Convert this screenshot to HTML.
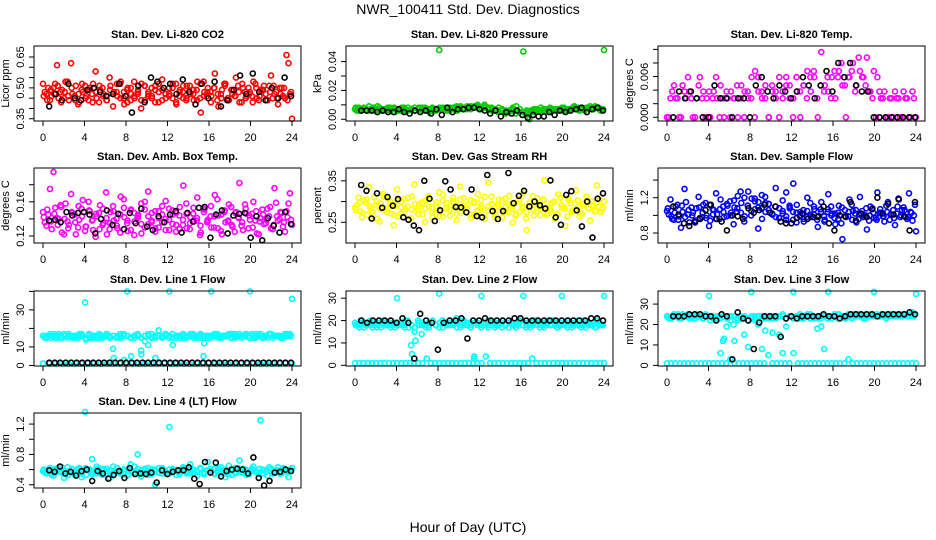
<!DOCTYPE html>
<html><head><meta charset="utf-8"><style>
html,body{margin:0;padding:0;background:#fff;}
svg{display:block;font-family:"Liberation Sans",Arial,sans-serif;}
</style></head><body>
<svg id="chart" width="936" height="540" viewBox="0 0 936 540" xmlns="http://www.w3.org/2000/svg">
<rect width="936" height="540" fill="#fff"/>
<text x="468" y="14" text-anchor="middle" font-size="14">NWR_100411  Std. Dev. Diagnostics</text>
<text x="468" y="532" text-anchor="middle" font-size="14">Hour of Day (UTC)</text>
</svg>
<script>
// ---- data (hours axis 0..24) ----
const hourTicks = [0,4,8,12,16,20,24];
// Panel 1: CO2 (x0.01 ppm)
const co2Red1 = [52,47,44,50,61,48,45,53,62,46,42,49,51,44,47,58,43,50,46,55,41,48,52,45,49,44,53,47,40,51,46,50,43,48,54,45,47,52,42,49,45,51,47,44,53,38,48,50,46,57,41,49,52,44,47,55,43,50,46,48,53,45,49,51,44,56,47,42,50,45,62,35];
const co2Red2 = [48,50,46,52,45,49,53,44,47,51,43,48,46,50,52,45,49,47,44,51,48,46,53,42,50,47,45,49,52,44,48,46,51,43,49,47,50,45,52,46,48,44,51,47,49,45,53,46,48,50,44,47,52,45,49,46,51,43,48,50,46,52,44,49,47,51,45,48,50,46,66,47];
const co2Red3 = [46,44,49,47,51,43,48,46,50,44,47,52,45,49,43,48,51,46,44,49,47,52,45,48,43,50,46,48,44,51,47,45,49,52,44,47,46,50,43,48,51,45,47,49,44,52,46,48,43,50,47,45,51,44,49,46,48,52,45,47,43,50,46,49,44,48,51,45,47,50,44,48];
const co2Black = [41,47,44,52,45,44,49,50,48,46,47,52,46,38,51,43,55,53,50,52,47,54,48,42,52,45,53,41,44,49,56,47,57,48,44,50,45,55,46];
// Panel 2: pressure (x0.001 kPa)
const presGreen1 = [7,8,6,7,9,7,6,8,7,6,8,7,6,7,8,6,7,8,7,6,8,7,6,7,48,7,8,6,8,9,7,8,7,9,8,10,7,9,8,7,6,8,7,5,6,8,9,7,47,5,6,7,6,8,7,6,5,7,6,8,7,6,8,7,6,7,8,9,7,8,6,48];
const presGreen2 = [6,7,8,6,7,8,9,6,7,8,7,5,6,8,7,6,7,6,8,7,6,5,7,6,8,7,6,7,8,6,9,7,8,7,9,8,7,10,8,6,7,5,6,4,5,7,4,5,3,4,0,5,6,5,7,6,8,7,6,7,8,6,7,9,8,7,6,8,7,9,8,7];
const presGreen3 = [8,6,7,7,6,8,7,7,6,7,6,8,7,6,6,8,7,6,7,8,7,6,8,7,7,8,7,8,7,8,8,7,9,8,8,9,8,8,7,8,7,6,6,6,5,6,6,5,5,6,5,6,7,6,6,7,7,6,7,7,6,7,7,8,7,8,7,7,8,8,7,7];
const presBlack = [6,6,6,5,6,5,5,7,5,4,6,5,6,4,7,3,8,5,7,7,8,8,7,6,4,6,2,5,4,6,3,1,3,2,2,5,3,6,5,6,7,8,5,7,8,6];
// Panel 3: Li-820 temp (x0.0001 C)
const tempMag1 = [0,28,47,28,0,38,59,28,0,47,28,0,38,28,59,0,28,38,0,28,47,28,0,38,28,0,59,38,28,0,47,38,0,28,59,47,28,38,0,47,68,38,59,0,96,47,38,59,28,68,47,0,59,80,47,68,59,88,38,68,59,28,38,0,28,38,28,0,28,0,38,0];
const tempMag2 = [0,38,28,0,47,28,38,0,28,59,38,28,0,38,28,47,0,28,38,28,0,47,38,28,59,68,38,28,47,0,38,28,59,38,47,28,0,59,38,47,28,59,68,28,47,38,59,28,68,59,80,47,59,68,38,88,59,47,38,28,0,38,28,0,28,0,28,0,38,28,0,28];
const tempBlack = [0,38,28,38,28,0,0,47,28,28,0,28,28,0,47,59,38,28,47,38,28,38,59,47,28,47,68,38,80,59,80,47,38,38,0,0,0,0,0,0,0,0];
// Panel 4: amb box temp (x0.001 C)
const boxMag1 = [148,132,175,195,141,156,122,137,169,145,130,152,126,160,138,119,147,133,171,128,155,140,124,163,135,150,121,143,158,130,172,138,125,149,136,161,127,145,133,154,179,129,142,137,165,124,151,139,130,168,144,122,136,157,131,148,182,127,146,139,160,123,141,134,152,129,176,138,147,125,158,133];
const boxMag2 = [136,145,128,153,140,124,158,133,147,122,139,162,131,149,127,143,156,135,122,148,138,129,166,142,126,151,137,145,123,160,134,147,129,141,155,127,139,150,125,144,133,158,128,146,138,121,152,136,143,130,163,126,148,137,154,125,142,132,157,129,146,138,122,151,135,143,128,159,140,131,149,170];
const boxMag3 = [142,151,137,146,133,154,140,129,148,136,155,143,131,150,139,146,128,152,141,135,149,132,145,153,138,127,147,141,134,151,143,136,149,130,145,140,152,134,147,128,139,146,135,153,141,132,148,137,155,143,129,145,150,138,133,147,141,136,152,144,130,149,137,145,139,154,133,143,148,136,142,139];
const boxBlack = [138,139,136,148,144,147,148,145,123,140,150,133,146,128,147,135,152,131,127,143,136,145,149,124,147,137,153,154,118,145,150,123,144,146,147,118,143,115,141,132,124,148,134];
// Panel 5: gas stream RH (x0.001 percent)
const rhYel1 = [285,310,262,298,335,276,291,252,318,284,300,243,329,270,306,288,260,341,279,295,251,313,286,272,322,264,297,281,309,255,336,290,275,303,268,318,284,258,346,293,277,305,262,288,314,249,299,276,320,231,290,267,308,283,351,272,296,259,317,285,241,302,278,327,265,294,312,254,289,339,275,300];
const rhYel2 = [291,276,303,268,283,310,258,295,279,306,271,289,264,300,283,257,312,277,294,269,303,287,261,298,275,316,282,266,301,290,273,308,285,261,296,279,304,270,288,312,262,293,281,307,274,290,266,301,284,259,297,313,276,289,305,268,282,298,271,309,287,264,295,279,303,270,291,284,300,276,288,281];
const rhYel3 = [280,297,272,305,289,266,299,283,312,274,291,268,302,286,277,309,281,294,270,298,284,307,273,290,265,301,287,279,296,271,305,283,292,268,300,276,289,311,279,295,270,287,302,276,293,283,269,306,288,274,298,281,294,267,303,285,277,300,269,291,282,308,275,296,286,271,299,283,292,277,304,286];
const rhBlack = [340,326,259,320,285,311,290,306,262,256,242,231,350,307,253,279,349,329,287,286,274,329,265,262,364,277,258,277,369,296,314,326,288,300,291,283,351,262,244,316,325,279,240,300,213,307,320];
// Panel 6: sample flow (x0.01 ml/min)
const sfBlue1 = [105,118,95,112,86,130,101,109,92,121,98,114,88,107,125,96,110,99,116,90,104,127,93,111,100,119,85,108,121,113,102,131,97,117,126,109,136,112,104,93,120,99,107,87,115,95,124,102,90,111,73,98,118,105,92,121,100,84,110,97,126,103,93,115,101,89,119,106,98,125,94,82];
const sfBlue2 = [101,96,110,99,104,115,92,103,108,97,112,100,94,106,101,118,98,111,103,109,122,114,99,127,119,107,115,96,104,113,101,98,108,102,95,111,104,92,99,106,98,114,101,95,107,99,104,110,97,103,91,106,99,112,102,96,105,100,94,108,97,103,99,111,95,106,102,98,109,96,104,100];
const sfBlue3 = [108,99,103,95,111,98,106,100,94,109,103,97,112,101,96,107,104,113,100,117,108,103,120,111,105,116,109,123,114,106,101,110,97,105,99,108,95,103,100,96,105,101,110,98,104,93,107,100,102,96,109,99,104,95,106,101,98,108,100,103,95,107,99,104,101,97,110,100,106,98,103,112];
const sfBlack = [110,101,91,88,93,96,106,112,96,93,83,100,99,96,108,103,106,112,103,110,93,91,91,97,102,96,98,99,110,91,83,100,99,115,94,102,98,107,120,102,113,101,118,99,83,115];
// Panel 7: line 1 flow (ml/min)
const l1Cyan1 = [16,15,17,16,15,16,17,15,16,16,15,17,34,16,15,16,17,15,16,16,9,15,17,16,40,15,16,17,8,16,11,17,15,19,16,17,40,11,16,15,15,16,17,15,16,15,12,16,40,17,15,16,16,17,15,16,17,16,17,40,15,16,17,16,15,17,16,16,15,17,16,36];
const l1Cyan2 = [15,16,16,15,17,15,16,16,15,16,17,16,14,15,16,16,15,16,17,15,4,16,15,3,16,5,15,16,6,13,16,15,4,16,15,16,15,17,15,16,16,15,16,17,15,16,5,16,15,16,17,15,16,16,15,17,16,15,16,16,17,15,16,15,16,17,15,16,16,15,16,17];
const l1Cyan3 = [16,16,15,17,16,15,16,17,16,15,16,16,15,17,16,15,16,16,17,15,16,15,16,17,16,15,16,16,15,16,17,15,16,16,15,17,16,15,16,16,17,15,16,16,15,17,16,15,16,17,16,15,16,16,17,15,16,16,17,15,16,17,16,15,16,17,16,16,15,16,17,16];
const l1Low = [1,1,1,1,1,1,1,1,1,1,1,1,1,1,1,1,1,1,1,1,1,1,1,1,1,1,1,1,1,1,1,1,1,1,1,1,1,1,1,1];
const l1Black = [1.5,1.5,1.5,1.5,1.5,1.5,1.5,1.5,1.5,1.5,1.5,1.5,1.5,1.5,1.5,1.5,1.5,1.5,1.5,1.5,1.5,1.5,1.5,1.5,1.5,1.5,1.5,1.5,1.5,1.5,1.5,1.5,1.5,1.5,1.5,1.5,1.5,1.5,1.5,1.5,1.5,1.5,1.5,1.5,1.5];
// Panel 8: line 2 flow
const l2Cyan1 = [19,18,20,18,19,17,18,19,20,18,19,18,30,19,18,20,9,15,20,14,18,19,19,18,32,20,19,18,19,21,20,18,19,18,4,19,31,18,20,19,18,19,20,18,19,18,19,20,31,19,18,20,19,18,19,20,18,19,18,31,19,20,18,19,18,20,19,18,19,20,18,31];
const l2Cyan2 = [18,19,17,18,20,18,19,17,18,19,18,17,19,18,20,17,5,11,18,19,17,18,20,18,19,17,18,19,18,19,17,20,18,19,3,18,17,19,18,20,17,18,19,18,17,19,18,20,18,17,19,18,20,17,18,19,18,20,17,19,18,17,19,18,20,17,18,19,18,17,19,18];
const l2Cyan3 = [18,17,19,18,18,19,17,18,19,18,17,19,18,18,17,19,18,17,19,18,18,17,19,18,17,19,18,18,19,17,18,19,18,17,19,18,18,19,17,18,19,18,17,18,19,18,17,19,18,18,17,19,18,19,17,18,18,19,17,18,19,18,17,19,18,18,17,19,18,17,19,18];
const l2Low = [1,1,1,1,1,1,1,1,1,1,1,1,1,1,1,1,1,3,1,1,1,1,1,1,1,1,1,1,1,1,1,4,1,1,1,1,1,1,1,1,1,1,3,1,1,1,1,1,1,1,1,1,1,1,1,1,1,1,1,1];
const l2Black = [20,19,20,20,20,20,19,21,19,3,23,20,19,7,19,20,20,21,12,20,20,21,20,20,20,20,21,21,20,20,20,20,20,20,20,20,20,20,20,21,21,20];
// Panel 9: line 3 flow
const l3Cyan1 = [24,23,25,24,23,24,25,24,23,24,24,25,34,24,23,24,12,19,24,20,23,24,15,22,36,24,20,24,17,24,23,24,15,25,19,24,36,24,23,24,25,24,23,24,19,24,36,23,24,25,24,23,24,25,24,24,23,24,25,36,24,25,24,24,25,24,25,24,25,24,26,35];
const l3Cyan2 = [23,24,24,23,25,24,23,24,24,25,23,24,22,23,24,6,13,23,24,12,22,23,24,9,23,22,24,8,23,24,16,23,24,6,23,24,23,24,25,23,24,23,24,18,23,8,23,24,25,23,24,24,25,23,24,25,24,23,24,25,24,24,25,23,24,25,25,24,25,24,25,24];
const l3Cyan3 = [24,23,24,25,23,24,24,23,25,24,23,24,24,23,22,23,24,23,22,24,23,24,23,22,24,23,24,23,24,23,24,23,24,24,23,24,23,24,24,23,24,25,24,23,24,24,23,24,24,25,24,23,24,24,25,24,24,25,24,24,25,24,24,25,24,25,24,25,25,24,25,25];
const l3Low = [1,1,1,1,1,1,1,1,1,1,1,1,1,1,1,3,1,1,1,1,1,1,1,1,5,1,1,1,1,1,6,1,1,1,1,1,1,1,1,1,1,1,1,3,1,1,1,1,1,1,1,1,1,1,1,1,1,1,1,1];
const l3Black = [24,24,24,25,25,25,24,24,22,25,24,3,26,23,22,8,21,24,24,24,14,23,24,23,24,24,24,24,25,24,24,23,24,25,25,25,25,25,24,25,25,25,25,25,26,25];
// Panel 10: line 4 (LT) flow (x0.01 ml/min)
const l4Cyan1 = [58,55,62,52,60,57,49,63,56,54,61,50,136,59,74,55,62,53,58,49,64,57,55,60,52,67,56,80,51,59,62,54,40,57,61,55,116,60,53,57,63,55,67,59,52,61,56,70,58,54,62,57,50,65,59,55,72,61,53,58,64,56,125,59,52,61,57,63,55,59,50,62];
const l4Cyan2 = [56,60,53,61,57,63,54,58,60,55,62,57,53,60,56,64,55,59,61,54,58,62,56,60,53,59,64,57,55,61,58,54,60,56,62,57,55,61,59,54,63,57,60,55,58,62,56,59,61,55,57,63,58,54,60,56,62,57,59,55,61,58,54,60,57,63,55,59,56,62,58,60];
const l4Cyan3 = [60,57,55,59,62,56,58,53,61,57,59,55,62,58,54,60,57,61,55,59,56,62,58,54,60,57,55,61,59,56,53,60,58,62,55,57,60,56,59,54,61,58,55,60,57,62,54,58,56,61,59,55,60,57,53,62,58,56,60,54,59,57,61,55,58,60,56,59,54,61,57,59];
const l4Black = [59,57,64,55,57,52,58,60,45,58,55,48,53,58,49,62,54,55,54,56,43,59,54,57,59,59,63,48,41,70,56,69,51,58,60,61,60,55,76,49,39,45,56,57,60,58];

const panels = [
 {name:'co2', title:'Stan. Dev. Li-820 CO2', ylab:'Licor ppm', col:0,row:0, ymin:0.339,ymax:0.7035, ticks:[0.35,0.40,0.45,0.50,0.55,0.60,0.65], labels:['0.35','','','0.50','','','0.65'],
  series:[{v:co2Red1,s:0.01,c:'#ff0000',t0:0,t1:24},{v:co2Red2,s:0.01,c:'#ff0000',t0:0.17,t1:23.8},{v:co2Red3,s:0.01,c:'#ff0000',t0:0.08,t1:23.9},{v:co2Black,s:0.01,c:'#000',t0:0.6,t1:23.9}]},
 {name:'pressure', title:'Stan. Dev. Li-820 Pressure', ylab:'kPa', col:1,row:0, ymin:-0.0012,ymax:0.0508, ticks:[0,0.01,0.02,0.03,0.04], labels:['0.00','','0.02','','0.04'],
  series:[{v:presGreen1,s:0.001,c:'#00cc00',t0:0,t1:24},{v:presGreen2,s:0.001,c:'#00cc00',t0:0.17,t1:23.8},{v:presGreen3,s:0.001,c:'#00cc00',t0:0.08,t1:23.9},{v:presBlack,s:0.001,c:'#000',t0:0.6,t1:23.9}]},
 {name:'li820-temp', title:'Stan. Dev. Li-820 Temp.', ylab:'degrees C', col:2,row:0, ymin:-0.00055,ymax:0.0105, ticks:[0,0.002,0.004,0.006,0.008,0.010], labels:['0.000','','','0.006','',''],
  series:[{v:tempMag1,s:0.0001,c:'#ff00ff',t0:0,t1:24},{v:tempMag2,s:0.0001,c:'#ff00ff',t0:0.17,t1:23.8},{v:tempBlack,s:0.0001,c:'#000',t0:0.6,t1:23.9}]},
 {name:'box-temp', title:'Stan. Dev. Amb. Box Temp.', ylab:'degrees C', col:0,row:1, ymin:0.1118,ymax:0.1996, ticks:[0.12,0.14,0.16,0.18], labels:['0.12','','0.16',''],
  series:[{v:boxMag1,s:0.001,c:'#ff00ff',t0:0,t1:24},{v:boxMag2,s:0.001,c:'#ff00ff',t0:0.17,t1:23.8},{v:boxMag3,s:0.001,c:'#ff00ff',t0:0.08,t1:23.9},{v:boxBlack,s:0.001,c:'#000',t0:0.6,t1:23.9}]},
 {name:'rh', title:'Stan. Dev. Gas Stream RH', ylab:'percent', col:1,row:1, ymin:0.2,ymax:0.381, ticks:[0.25,0.30,0.35], labels:['0.25','','0.35'],
  series:[{v:rhYel1,s:0.001,c:'#ffff00',t0:0,t1:24},{v:rhYel2,s:0.001,c:'#ffff00',t0:0.17,t1:23.8},{v:rhYel3,s:0.001,c:'#ffff00',t0:0.08,t1:23.9},{v:rhBlack,s:0.001,c:'#000',t0:0.6,t1:23.9}]},
 {name:'sample-flow', title:'Stan. Dev. Sample Flow', ylab:'ml/min', col:2,row:1, ymin:0.687,ymax:1.537, ticks:[0.8,1.0,1.2,1.4], labels:['0.8','','1.2',''],
  series:[{v:sfBlue1,s:0.01,c:'#0000ff',t0:0,t1:24},{v:sfBlue2,s:0.01,c:'#0000ff',t0:0.17,t1:23.8},{v:sfBlue3,s:0.01,c:'#0000ff',t0:0.08,t1:23.9},{v:sfBlack,s:0.01,c:'#000',t0:0.6,t1:23.9}]},
 {name:'line1-flow', title:'Stan. Dev. Line 1 Flow', ylab:'ml/min', col:0,row:2, ymin:-0.3,ymax:40.2, ticks:[0,10,20,30,40], labels:['0','10','','30',''],
  series:[{v:l1Low,s:1,c:'#00ffff',t0:0,t1:24},{v:l1Cyan1,s:1,c:'#00ffff',t0:0,t1:24},{v:l1Cyan2,s:1,c:'#00ffff',t0:0.17,t1:23.8},{v:l1Cyan3,s:1,c:'#00ffff',t0:0.08,t1:23.9},{v:l1Black,s:1,c:'#000',t0:0.6,t1:23.9}]},
 {name:'line2-flow', title:'Stan. Dev. Line 2 Flow', ylab:'ml/min', col:1,row:2, ymin:-0.3,ymax:33.2, ticks:[0,10,20,30], labels:['0','10','20','30'],
  series:[{v:l2Low,s:1,c:'#00ffff',t0:0,t1:24},{v:l2Cyan1,s:1,c:'#00ffff',t0:0,t1:24},{v:l2Cyan2,s:1,c:'#00ffff',t0:0.17,t1:23.8},{v:l2Cyan3,s:1,c:'#00ffff',t0:0.08,t1:23.9},{v:l2Black,s:1,c:'#000',t0:0.6,t1:23.9}]},
 {name:'line3-flow', title:'Stan. Dev. Line 3 Flow', ylab:'ml/min', col:2,row:2, ymin:-0.3,ymax:36.4, ticks:[0,10,20,30], labels:['0','10','20','30'],
  series:[{v:l3Low,s:1,c:'#00ffff',t0:0,t1:24},{v:l3Cyan1,s:1,c:'#00ffff',t0:0,t1:24},{v:l3Cyan2,s:1,c:'#00ffff',t0:0.17,t1:23.8},{v:l3Cyan3,s:1,c:'#00ffff',t0:0.08,t1:23.9},{v:l3Black,s:1,c:'#000',t0:0.6,t1:23.9}]},
 {name:'line4-flow', title:'Stan. Dev. Line 4 (LT) Flow', ylab:'ml/min', col:0,row:3, ymin:0.357,ymax:1.346, ticks:[0.4,0.6,0.8,1.0,1.2], labels:['0.4','','0.8','','1.2'],
  series:[{v:l4Cyan1,s:0.01,c:'#00ffff',t0:0,t1:24},{v:l4Cyan2,s:0.01,c:'#00ffff',t0:0.17,t1:23.8},{v:l4Cyan3,s:0.01,c:'#00ffff',t0:0.08,t1:23.9},{v:l4Black,s:0.01,c:'#000',t0:0.6,t1:23.9}]}
];

const NS = 'http://www.w3.org/2000/svg';
const svg = document.getElementById('chart');
const colLeft = [34,346,658], rowTop = [46,168,291,413], W = 267, H = 75;
function mk(tag, attrs, parent){ const e=document.createElementNS(NS,tag); for(const k in attrs) e.setAttribute(k,attrs[k]); parent.appendChild(e); return e; }

panels.forEach(p=>{
  const L = colLeft[p.col], T = rowTop[p.row], B = T+H;
  const xs = h => L + 9 + h*(W-18)/24;
  const ys = v => B - (v-p.ymin)/(p.ymax-p.ymin)*H;
  const g = mk('g',{},svg);
  
  
  const t = mk('text',{x:L+W/2,y:T-8,'text-anchor':'middle','font-size':'11','font-weight':'bold'},g);
  t.textContent = p.title;
  
  
  const pts = mk('g',{fill:'none','stroke-width':'1.6'},g);
  
  
  p.series.forEach(s=>{
    const n = s.v.length;
    s.v.forEach((val,i)=>{
      const h = s.t0 + i*(s.t1-s.t0)/(n-1);
      const c = mk('circle',{cx:xs(h).toFixed(1),cy:ys(val*s.s).toFixed(1),r:'2.5',stroke:s.c},pts);
      
      
    });
  });
  const box = mk('rect',{x:L,y:T,width:W,height:H,fill:'none',stroke:'#000','stroke-width':'1'},g);
  
  
  const xa = mk('g',{},g);
  
  
  mk('line',{x1:xs(0),x2:xs(24),y1:B,y2:B,stroke:'#000'},xa);
  hourTicks.forEach(h=>{
    mk('line',{x1:xs(h),x2:xs(h),y1:B,y2:B+5,stroke:'#000'},xa);
    const tl = mk('text',{x:xs(h),y:B+20,'text-anchor':'middle','font-size':'11'},xa);
    tl.textContent = h;
    
    
  });
  const ya = mk('g',{},g);
  
  
  mk('line',{x1:L,x2:L,y1:ys(p.ticks[0]),y2:ys(p.ticks[p.ticks.length-1]),stroke:'#000'},ya);
  p.ticks.forEach((v,i)=>{
    const y = ys(v);
    mk('line',{x1:L-5,x2:L,y1:y,y2:y,stroke:'#000'},ya);
    if(p.labels[i]){
      const tl = mk('text',{x:L-10,y:y,'text-anchor':'middle','font-size':'11',transform:`rotate(-90 ${L-10} ${y})`},ya);
      tl.textContent = p.labels[i];
      
      
    }
  });
  const yl = mk('text',{x:L-25,y:T+H/2,'text-anchor':'middle','font-size':'11',transform:`rotate(-90 ${L-25} ${T+H/2})`},ya);
  yl.textContent = p.ylab;
  
  
});
</script>
</body></html>
